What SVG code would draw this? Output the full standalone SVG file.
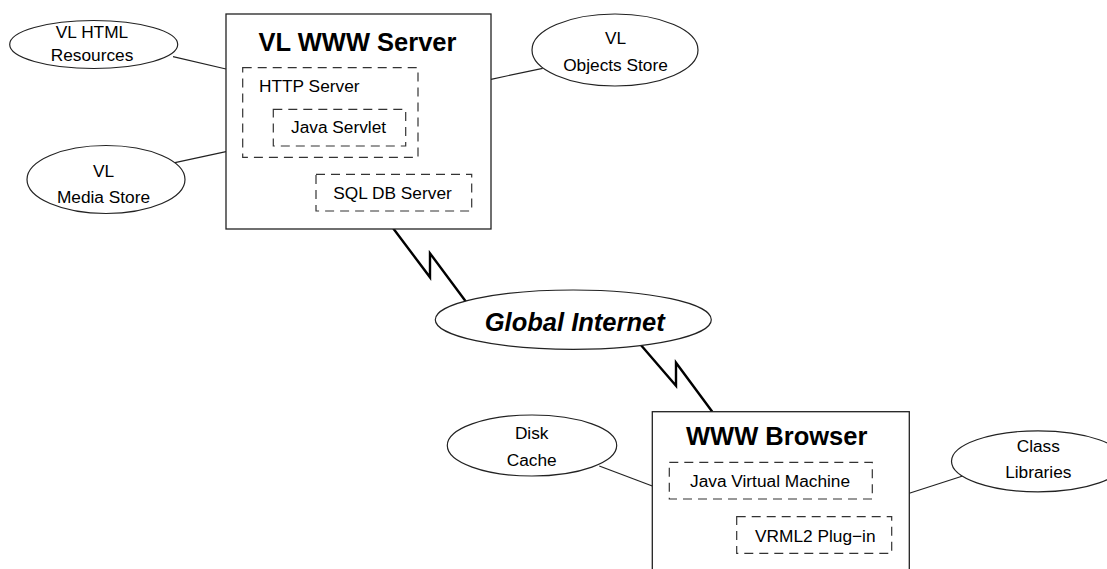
<svg xmlns="http://www.w3.org/2000/svg" width="1107" height="569" viewBox="0 0 1107 569">
  <style>
    .box { fill: #fff; stroke: #222; stroke-width: 1.3; }
    .dash { fill: none; stroke: #333; stroke-width: 1.2; stroke-dasharray: 9 6; }
    .ell { fill: #fff; stroke: #222; stroke-width: 1.2; }
    .link { fill: none; stroke: #222; stroke-width: 1.2; }
    .wan { fill: none; stroke: #000; stroke-width: 2.4; stroke-linejoin: miter; }
    .t { font-family: "Liberation Sans", Arial, sans-serif; font-size: 17.3px; fill: #000; }
    .c { text-anchor: middle; }
    .title { font-family: "Liberation Sans", Arial, sans-serif; font-size: 25.5px; font-weight: bold; fill: #000; text-anchor: middle; }
  </style>
  <rect width="1107" height="569" fill="#fff"/>

  <!-- connectors -->
  <g id="connectors">
    <line class="link" x1="173" y1="56.7" x2="226" y2="69"/>
    <line class="link" x1="175" y1="162.7" x2="226" y2="151.7"/>
    <line class="link" x1="491" y1="79.3" x2="542.7" y2="68.3"/>
    <line class="link" x1="599.3" y1="466" x2="652.3" y2="486"/>
    <line class="link" x1="909.3" y1="493.3" x2="962.7" y2="476"/>
    <!-- lightning-bolt WAN links -->
    <polyline class="wan" points="393.3,228.5 430,277.3 430,253.3 466,301.7"/>
    <polyline class="wan" points="640,344 676,385.7 676,362.7 712.3,411.7"/>
  </g>

  <!-- server -->
  <g id="server">
    <rect class="box" x="226" y="14" width="265" height="215"/>
    <text class="title" x="357.5" y="51">VL WWW Server</text>
  </g>
  <g id="http-server">
    <rect class="dash" x="242.7" y="67.7" width="175.3" height="89.6"/>
    <text class="t" x="259" y="91.7">HTTP Server</text>
  </g>
  <g id="java-servlet">
    <rect class="dash" x="273.3" y="109.3" width="132.4" height="36.7"/>
    <text class="t" x="291" y="133.3">Java Servlet</text>
  </g>
  <g id="sql-db">
    <rect class="dash" x="316" y="174.3" width="155.7" height="36.7"/>
    <text class="t" x="333.3" y="199.3">SQL DB Server</text>
  </g>

  <!-- server stores -->
  <g id="html-resources">
    <ellipse class="ell" cx="93.7" cy="44.5" rx="84" ry="24"/>
    <text class="t c" x="92" y="37.7">VL HTML</text>
    <text class="t c" x="92" y="61">Resources</text>
  </g>
  <g id="media-store">
    <ellipse class="ell" cx="106" cy="179.5" rx="79" ry="34"/>
    <text class="t c" x="103.5" y="177.3">VL</text>
    <text class="t c" x="103.5" y="203.3">Media Store</text>
  </g>
  <g id="objects-store">
    <ellipse class="ell" cx="615" cy="50" rx="83" ry="36"/>
    <text class="t c" x="615.5" y="44.3">VL</text>
    <text class="t c" x="615.5" y="71">Objects Store</text>
  </g>

  <!-- network -->
  <g id="internet">
    <ellipse class="ell" cx="573.3" cy="319.7" rx="138" ry="29.7"/>
    <text class="title" x="574.7" y="330.7" font-style="italic">Global Internet</text>
  </g>

  <!-- client -->
  <g id="browser">
    <rect class="box" x="652.3" y="411.7" width="257" height="175"/>
    <text class="title" x="776.7" y="445">WWW Browser</text>
  </g>
  <g id="jvm">
    <rect class="dash" x="669.3" y="462.3" width="203" height="36.7"/>
    <text class="t" x="690" y="487.3">Java Virtual Machine</text>
  </g>
  <g id="vrml-plugin">
    <rect class="dash" x="736.7" y="516.7" width="155" height="36.6"/>
    <text class="t" x="755" y="541.7">VRML2 Plug−in</text>
  </g>
  <g id="disk-cache">
    <ellipse class="ell" cx="532" cy="445.5" rx="84.7" ry="30.5"/>
    <text class="t c" x="531.7" y="439.3">Disk</text>
    <text class="t c" x="531.7" y="466">Cache</text>
  </g>
  <g id="class-libraries">
    <ellipse class="ell" cx="1038" cy="461.3" rx="86.5" ry="30.5"/>
    <text class="t c" x="1038.3" y="451.7">Class</text>
    <text class="t c" x="1038.3" y="478.3">Libraries</text>
  </g>
</svg>
